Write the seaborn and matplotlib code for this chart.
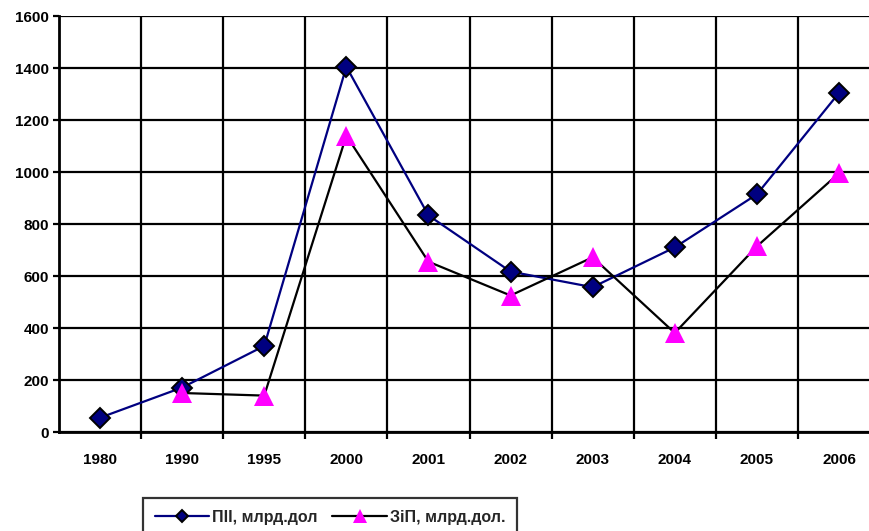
import pandas as pd
import matplotlib.pyplot as plt
import seaborn as sns
from matplotlib.ticker import FixedLocator

plt.switch_backend('Agg')
sns.set_theme(style="white")
plt.rcParams['font.family'] = ['Liberation Sans', 'DejaVu Sans']

# Дані
years = ["1980", "1990", "1995", "2000", "2001", "2002", "2003", "2004", "2005", "2006"]
pii = [55, 171, 331, 1405, 833, 617, 557, 710, 914, 1304]
zip_years = ["1990", "1995", "2000", "2001", "2002", "2003", "2004", "2005", "2006"]
zip_vals = [150, 140, 1140, 655, 525, 672, 381, 714, 995]
pii_label = "ПІІ, млрд.дол"
zip_label = "ЗіП, млрд.дол."

df_pii = pd.DataFrame({"pos": [years.index(y) for y in years], "val": pii})
df_zip = pd.DataFrame({"pos": [years.index(y) for y in zip_years], "val": zip_vals})

fig = plt.figure(figsize=(8.7, 5.31), dpi=100)
ax = fig.add_axes([59 / 870, 99 / 531, 821 / 870, 416 / 531])

sns.lineplot(data=df_pii, x="pos", y="val", ax=ax, color="#000080", linewidth=1.6,
             marker="D", markersize=10, markerfacecolor="#000080",
             markeredgecolor="black", markeredgewidth=1.4, label=pii_label, zorder=3)
sns.lineplot(data=df_zip, x="pos", y="val", ax=ax, color="black", linewidth=1.6,
             marker="^", markersize=15, markerfacecolor="#FF00FF",
             markeredgecolor="#FF00FF", markeredgewidth=0, label=zip_label, zorder=4)

ax.set_xlim(-0.5, 9.5)
ax.set_ylim(0, 1600)
ax.set_yticks(range(0, 1601, 200))
ax.set_xticks(range(len(years)))
ax.set_xticklabels(years)
ax.xaxis.set_minor_locator(FixedLocator([i + 0.5 for i in range(len(years))]))
ax.grid(True, which="major", axis="y", color="black", linewidth=1.6)
ax.grid(True, which="minor", axis="x", color="black", linewidth=1.6)
ax.set_axisbelow(True)
ax.tick_params(axis="x", which="major", length=0, pad=15)
ax.tick_params(axis="x", which="minor", length=5, width=1.6, color="black", bottom=True)
ax.tick_params(axis="y", length=4, width=1.6, color="black", left=True, pad=3)
for lab in ax.get_xticklabels() + ax.get_yticklabels():
    lab.set_fontsize(11)
    lab.set_fontweight("bold")
    lab.set_color("black")
for s in ["left", "bottom"]:
    ax.spines[s].set_color("black")
    ax.spines[s].set_linewidth(2)
ax.spines["top"].set_visible(False)
ax.spines["right"].set_visible(False)
ax.set_xlabel("")
ax.set_ylabel("")

ax.legend_.remove()
handles, labels = ax.get_legend_handles_labels()
leg = fig.legend(handles, labels, loc="upper left", bbox_to_anchor=(143 / 870, 1 - 498 / 531),
                 ncol=2, frameon=True, fancybox=False, edgecolor="black",
                 prop={"weight": "bold", "size": 11.5}, handlelength=3.4,
                 columnspacing=0.9, handletextpad=0.2, borderpad=0.75, borderaxespad=0)
leg.get_frame().set_linewidth(1.6)
for h, ms in zip(leg.legend_handles, [6.5, 10]):
    h.set_markersize(ms)

fig.savefig("out.png", dpi=100)
